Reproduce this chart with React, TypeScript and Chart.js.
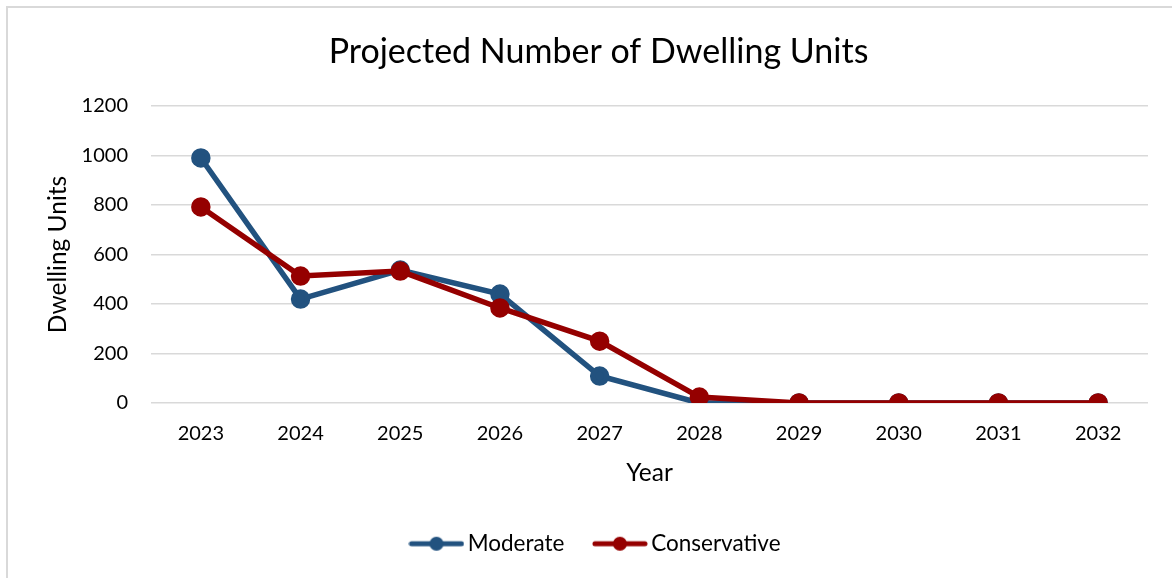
import React, { useEffect, useRef } from "react";
import { Chart, registerables } from "chart.js";

Chart.register(...registerables);

const years = ["2023", "2024", "2025", "2026", "2027", "2028", "2029", "2030", "2031", "2032"];
const moderate = [990, 420, 537, 440, 109, 0, 0, 0, 0, 0];
const conservative = [792, 513, 533, 384, 250, 24, 0, 0, 0, 0];
const seriesNames = ["Moderate", "Conservative"];
const titleText = "Projected Number of Dwelling Units";
const xTitle = "Year";
const yTitle = "Dwelling Units";

const BLUE = "#22527F";
const RED = "#950000";
const FONT = "Lato, 'Liberation Sans', sans-serif";

function legendIcon(color: string): HTMLCanvasElement {
  const c = document.createElement("canvas");
  c.width = 56;
  c.height = 16;
  const ctx = c.getContext("2d")!;
  ctx.strokeStyle = color;
  ctx.lineWidth = 5;
  ctx.lineCap = "round";
  ctx.beginPath();
  ctx.moveTo(3, 8);
  ctx.lineTo(53, 8);
  ctx.stroke();
  ctx.fillStyle = color;
  ctx.beginPath();
  ctx.arc(28, 8, 7, 0, Math.PI * 2);
  ctx.fill();
  return c;
}

export default function App() {
  const ref = useRef<HTMLCanvasElement>(null);
  useEffect(() => {
    if (!ref.current) return;
    const icons = [legendIcon(BLUE), legendIcon(RED)];
    const chart = new Chart(ref.current, {
      type: "line",
      data: {
        labels: years,
        datasets: [
          {
            label: seriesNames[0],
            data: moderate,
            borderColor: BLUE,
            backgroundColor: BLUE,
            borderWidth: 5.5,
            pointRadius: 7,
            pointBackgroundColor: BLUE,
            pointBorderColor: BLUE,
            order: 1,
          },
          {
            label: seriesNames[1],
            data: conservative,
            borderColor: RED,
            backgroundColor: RED,
            borderWidth: 5.5,
            pointRadius: 7,
            pointBackgroundColor: RED,
            pointBorderColor: RED,
            order: 0,
          },
        ],
      },
      options: {
        responsive: false,
        animation: false,
        layout: { padding: { top: 6, left: 49, right: 24, bottom: 13 } },
        plugins: {
          tooltip: { enabled: false },
          title: {
            display: true,
            text: titleText,
            color: "#000",
            font: { family: FONT, size: 34, weight: "normal" },
            padding: { top: 25.6, bottom: 33.6 },
          },
          legend: {
            position: "bottom",
            labels: {
              usePointStyle: true,
              pointStyleWidth: 40,
              boxHeight: 16,
              padding: 35.5,
              color: "#000",
              font: { family: FONT, size: 22.5 },
              sort: (a: any, b: any) => a.datasetIndex - b.datasetIndex,
              generateLabels: (chart: any) => {
                const items = Chart.defaults.plugins.legend.labels.generateLabels(chart);
                return items.map((it: any) => ({ ...it, pointStyle: icons[it.datasetIndex] }));
              },
            },
          },
        },
        scales: {
          x: {
            offset: true,
            grid: { display: false, drawTicks: false },
            border: { display: false },
            ticks: { color: "#000", font: { family: FONT, size: 20 }, padding: 19 },
            title: {
              display: true,
              text: xTitle,
              color: "#000",
              font: { family: FONT, size: 24.5 },
              padding: { top: 0, bottom: 9 },
            },
            afterFit: (s: any) => {
              s.height = 94;
            },
          },
          y: {
            min: 0,
            max: 1200,
            ticks: {
              stepSize: 200,
              color: "#000",
              font: { family: FONT, size: 20 },
              padding: 23,
              callback: (v: any) => String(v),
            },
            grid: { color: "#D9D9D9", lineWidth: 1.5, drawTicks: false },
            border: { display: false },
            title: {
              display: true,
              text: yTitle,
              color: "#000",
              font: { family: FONT, size: 24.5 },
              padding: { top: -5.7, bottom: 0 },
            },
            afterFit: (s: any) => {
              s.width = 102;
            },
          },
        },
      },
    });
    return () => chart.destroy();
  }, []);

  return (
    <div style={{ position: "absolute", left: 0, top: 0, width: 1172, height: 578, overflow: "hidden", background: "#fff" }}>
      <div
        style={{
          position: "absolute",
          left: 6,
          top: 6,
          width: 1190,
          height: 600,
          border: "2px solid #D9D9D9",
          boxSizing: "border-box",
        }}
      />
      <canvas ref={ref} width={1172} height={578} style={{ position: "absolute", left: 0, top: 0 }} />
    </div>
  );
}
